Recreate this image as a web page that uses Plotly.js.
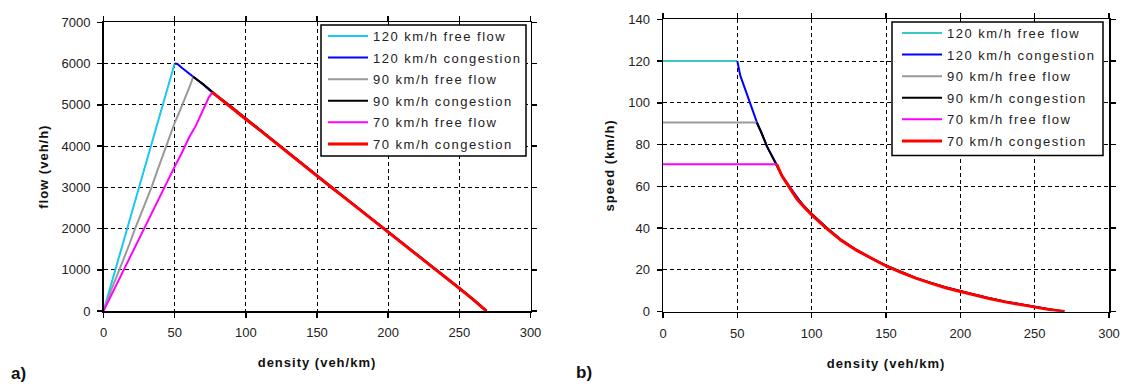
<!DOCTYPE html>
<html>
<head>
<meta charset="utf-8">
<script src="https://cdn.plot.ly/plotly-3.0.1.min.js"></script>
<style>
  html, body { margin: 0; padding: 0; background: #fff; }
  #chart { width: 1128px; height: 389px; }
  .xtitle, .x2title, .ytitle, .y2title { letter-spacing: 1px; }
</style>
</head>
<body>
<div id="chart"></div>
<script>
// ---- a) flow vs density ----
const kFree120 = [0, 2, 5, 10, 15, 20, 25, 30, 35, 40, 45, 50];
const qFree120 = [0, 250, 600, 1200, 1800, 2400, 3010, 3600, 4190, 4800, 5400, 6000];

const kFree90 = [0, 3, 6, 10, 14, 18, 22, 26, 30, 34, 38, 42, 46, 50, 54, 58, 61, 63];
const qFree90 = [0, 300, 560, 900, 1230, 1600, 1980, 2320, 2700, 3020, 3420, 3800, 4130, 4560, 4880, 5200, 5480, 5680];

const kFree70 = [0, 5, 11, 18, 25, 31, 37, 42, 46, 50, 55, 60, 65, 70, 74, 76.5];
const qFree70 = [0, 350, 760, 1290, 1760, 2180, 2610, 2930, 3240, 3500, 3830, 4200, 4500, 4880, 5180, 5300];

const kCong120 = [50, 52, 55, 58, 60, 63, 66, 70, 76, 80, 90, 100, 110, 120, 130, 140, 150, 160, 170, 180, 190, 200, 210, 220, 230, 240, 250, 260, 269];
const qCong120 = [6000, 5990, 5900, 5820, 5760, 5690, 5610, 5490, 5310, 5200, 4930, 4650, 4370, 4100, 3830, 3550, 3270, 3000, 2740, 2460, 2190, 1920, 1640, 1370, 1100, 820, 550, 270, 0];

const kCong90 = [63, 66, 70, 76, 80, 90, 100, 110, 120, 130, 140, 150, 160, 170, 180, 190, 200, 210, 220, 230, 240, 250, 260, 269];
const qCong90 = [5680, 5610, 5500, 5330, 5210, 4950, 4670, 4390, 4110, 3840, 3560, 3290, 3010, 2740, 2470, 2200, 1920, 1650, 1380, 1100, 830, 560, 280, 0];

const kCong70 = [76.5, 80, 90, 100, 110, 120, 130, 140, 150, 160, 170, 180, 190, 200, 210, 220, 230, 240, 250, 260, 269];
const qCong70 = [5300, 5200, 4930, 4650, 4380, 4100, 3830, 3550, 3280, 3000, 2730, 2460, 2190, 1910, 1640, 1370, 1090, 820, 550, 270, 0];

// ---- b) speed vs density ----
const kSpFree120 = [0, 10, 20, 30, 40, 50];
const vSpFree120 = [120, 120, 120, 120, 120, 120];

const kSpFree90 = [0, 10, 20, 30, 40, 50, 63];
const vSpFree90 = [90.5, 90.5, 90.5, 90.5, 90.5, 90.5, 90.5];

const kSpFree70 = [0, 10, 20, 30, 40, 50, 60, 76.5];
const vSpFree70 = [70.5, 70.5, 70.5, 70.5, 70.5, 70.5, 70.5, 70.5];

const kSpCong120 = [50, 52, 55, 58, 60, 63, 66, 70, 76, 80, 85, 90, 95, 100, 110, 120, 130, 140, 150, 160, 170, 180, 190, 200, 210, 220, 230, 240, 250, 260, 270];
const vSpCong120 = [120, 113, 107, 101, 96, 91, 86, 79, 71, 65, 60, 55, 50, 46.5, 40, 34, 29.5, 25.5, 22, 19, 16, 13.7, 11.5, 9.7, 7.8, 6.2, 4.7, 3.4, 2.2, 1, 0];

const kSpCong90 = [63, 66, 70, 76, 80, 85, 90, 95, 100, 110, 120, 130, 140, 150, 160, 170, 180, 190, 200, 210, 220, 230, 240, 250, 260, 270];
const vSpCong90 = [90.5, 86, 79, 71, 65, 59.5, 54.5, 50.5, 46.8, 40.2, 34.3, 29.6, 25.6, 22.1, 19, 16.1, 13.8, 11.6, 9.8, 7.9, 6.3, 4.8, 3.5, 2.3, 1.1, 0];

const kSpCong70 = [76.5, 80, 85, 90, 95, 100, 110, 120, 130, 140, 150, 160, 170, 180, 190, 200, 210, 220, 230, 240, 250, 260, 270];
const vSpCong70 = [70.5, 65, 59.5, 54, 50, 46.3, 39.8, 34, 29.4, 25.4, 21.8, 18.8, 16, 13.6, 11.4, 9.6, 7.7, 6.1, 4.6, 3.3, 2.1, 0.9, 0];

const seriesNames = ['120 km/h free flow', '120 km/h congestion', '90 km/h free flow',
                     '90 km/h congestion', '70 km/h free flow', '70 km/h congestion'];
const colorsA = ['#18c8f0', '#0000ff', '#999999', '#000000', '#ff00ff', '#ff0000'];
const colorsB = ['#38c8c8', '#0000ff', '#999999', '#000000', '#ff00ff', '#ff0000'];
const widths = [2, 2, 2, 2, 2, 3];

const dataA = [[kFree120, qFree120], [kCong120, qCong120], [kFree90, qFree90],
               [kCong90, qCong90], [kFree70, qFree70], [kCong70, qCong70]];
const dataB = [[kSpFree120, vSpFree120], [kSpCong120, vSpCong120], [kSpFree90, vSpFree90],
               [kSpCong90, vSpCong90], [kSpFree70, vSpFree70], [kSpCong70, vSpCong70]];

const traces = [];
dataA.forEach((d, i) => traces.push({
  x: d[0], y: d[1], type: 'scatter', mode: 'lines', name: seriesNames[i],
  xaxis: 'x', yaxis: 'y', legend: 'legend', legendgroup: 'a' + i,
  line: { color: colorsA[i], width: widths[i] }
}));
dataB.forEach((d, i) => traces.push({
  x: d[0], y: d[1], type: 'scatter', mode: 'lines', name: seriesNames[i],
  xaxis: 'x2', yaxis: 'y2', legend: 'legend2', legendgroup: 'b' + i,
  line: { color: colorsB[i], width: widths[i] }
}));

const W = 1128, H = 389;
const FONT = 'Liberation Sans, Arial, sans-serif';
const tickFont = { family: FONT, size: 13, color: '#222' };
const titleFont = { family: FONT, size: 13, color: '#111', weight: 'bold' };

const axisCommon = {
  showline: true, linecolor: '#000', linewidth: 1.5, mirror: 'ticks',
  ticks: 'outside', ticklen: 5, tickwidth: 1.5, tickcolor: '#000',
  showgrid: true, gridcolor: '#000', gridwidth: 1, griddash: '4px,3px',
  zeroline: false, tickfont: tickFont, fixedrange: true
};

const legendCommon = {
  bgcolor: 'rgba(0,0,0,0)', borderwidth: 0, xanchor: 'left', yanchor: 'top',
  font: { family: FONT, size: 13, color: '#222' }, tracegroupgap: 1.7,
  itemwidth: 40
};

const layout = {
  width: W, height: H, autosize: false,
  margin: { l: 0, r: 0, t: 0, b: 0 },
  paper_bgcolor: '#fff', plot_bgcolor: '#fff',
  showlegend: true,
  xaxis: Object.assign({}, axisCommon, {
    domain: [103.5 / W, 530.5 / W], range: [0, 300], dtick: 50, anchor: 'y',
    ticklabelstandoff: 4,
    title: { text: 'density (veh/km)', font: titleFont, standoff: 19 }
  }),
  yaxis: Object.assign({}, axisCommon, {
    domain: [78 / H, 366.7 / H], range: [0, 7000], dtick: 1000, anchor: 'x',
    ticklabelstandoff: 4,
    title: { text: 'flow (veh/h)', font: titleFont, standoff: 10 }
  }),
  xaxis2: Object.assign({}, axisCommon, {
    domain: [663 / W, 1109 / W], range: [0, 300], dtick: 50, anchor: 'y2',
    ticklabelstandoff: 4,
    title: { text: 'density (veh/km)', font: titleFont, standoff: 19 }
  }),
  yaxis2: Object.assign({}, axisCommon, {
    domain: [77.5 / H, 369.7 / H], range: [0, 140], dtick: 20, anchor: 'x2',
    ticklabelstandoff: 4,
    title: { text: 'speed (km/h)', font: titleFont, standoff: 10 }
  }),
  legend: Object.assign({}, legendCommon, { x: 323 / W, y: 1 - 21 / H }),
  legend2: Object.assign({}, legendCommon, { x: 897 / W, y: 1 - 18 / H }),
  shapes: [
    { type: 'rect', xref: 'paper', yref: 'paper', layer: 'above',
      x0: 321 / W, x1: 526 / W, y0: 1 - 156 / H, y1: 1 - 25 / H,
      line: { color: '#000', width: 1.5 }, fillcolor: '#fff' },
    { type: 'rect', xref: 'paper', yref: 'paper', layer: 'above',
      x0: 892 / W, x1: 1103 / W, y0: 1 - 155.5 / H, y1: 1 - 22 / H,
      line: { color: '#000', width: 1.5 }, fillcolor: '#fff' }
  ],
  annotations: [
    { text: '<b>a)</b>', xref: 'paper', yref: 'paper', x: 9 / W, y: 1 - 373 / H,
      xanchor: 'left', yanchor: 'middle', showarrow: false,
      font: { family: FONT, size: 17, color: '#111' } },
    { text: '<b>b)</b>', xref: 'paper', yref: 'paper', x: 574 / W, y: 1 - 372 / H,
      xanchor: 'left', yanchor: 'middle', showarrow: false,
      font: { family: FONT, size: 17, color: '#111' } }
  ]
};

// Widen the legend lettering on both legends and let the wider text show in full
function spaceLegendText(gd) {
  gd.querySelectorAll('svg text').forEach(t => {
    if (seriesNames.indexOf(t.textContent) >= 0) {
      t.style.letterSpacing = '1.5px';
      t.setAttribute('letter-spacing', '1.5px');
    }
  });
  gd.querySelectorAll('.infolayer [clip-path]').forEach(el => {
    el.removeAttribute('clip-path');
  });
}

Plotly.newPlot('chart', traces, layout, { staticPlot: true, displayModeBar: false })
  .then(gd => { spaceLegendText(gd); requestAnimationFrame(() => spaceLegendText(gd)); });
</script>
</body>
</html>
